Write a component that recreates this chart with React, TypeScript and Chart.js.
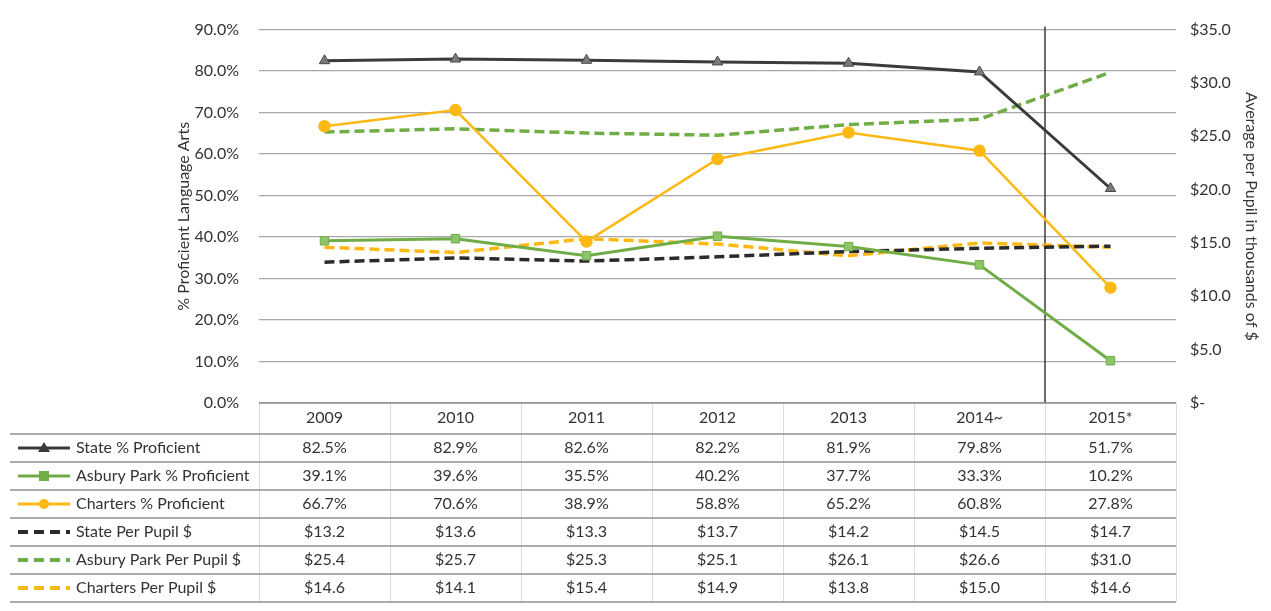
import React, { useEffect, useRef } from "react";
import { Chart, registerables } from "chart.js";

Chart.register(...registerables);

const years = ["2009", "2010", "2011", "2012", "2013", "2014~", "2015*"];
const statePct = [82.5, 82.9, 82.6, 82.2, 81.9, 79.8, 51.7];
const asburyPct = [39.1, 39.6, 35.5, 40.2, 37.7, 33.3, 10.2];
const chartersPct = [66.7, 70.6, 38.9, 58.8, 65.2, 60.8, 27.8];
const statePerPupil = [13.2, 13.6, 13.3, 13.7, 14.2, 14.5, 14.7];
const asburyPerPupil = [25.4, 25.7, 25.3, 25.1, 26.1, 26.6, 31.0];
const chartersPerPupil = [14.6, 14.1, 15.4, 14.9, 13.8, 15.0, 14.6];
const seriesNames = [
  "State % Proficient",
  "Asbury Park % Proficient",
  "Charters % Proficient",
  "State Per Pupil $",
  "Asbury Park Per Pupil $",
  "Charters Per Pupil $",
];
const leftMin = 0;
const leftMax = 90;
const leftStep = 10;
const rightMin = 0;
const rightMax = 35;
const rightStep = 5;
const leftTitle = "% Proficient Language Arts";
const rightTitle = "Average per Pupil in thousands of $";

const FONT = "Lato";
const TEXT = "#333333";
const DARK = "#3b3b3b";
const GREEN = "#70AD47";
const GOLD = "#FDB913";

const pctFmt = (v: number) => v.toFixed(1) + "%";
const usdFmt = (v: number) => "$" + v.toFixed(1);

type RowSpec = { values: number[]; fmt: (v: number) => string; color: string; dashed: boolean; marker: string | null };

const rows: RowSpec[] = [
  { values: statePct, fmt: pctFmt, color: DARK, dashed: false, marker: "triangle" },
  { values: asburyPct, fmt: pctFmt, color: GREEN, dashed: false, marker: "rect" },
  { values: chartersPct, fmt: pctFmt, color: GOLD, dashed: false, marker: "circle" },
  { values: statePerPupil, fmt: usdFmt, color: "#2b2b2b", dashed: true, marker: null },
  { values: asburyPerPupil, fmt: usdFmt, color: GREEN, dashed: true, marker: null },
  { values: chartersPerPupil, fmt: usdFmt, color: GOLD, dashed: true, marker: null },
];

const ROW_H = 28;

const tablePlugin = {
  id: "dataTable",
  beforeDatasetsDraw(chart: any) {
    const { ctx, chartArea } = chart;
    const n = years.length;
    const colW = (chartArea.right - chartArea.left) / n;
    const sepX = chartArea.left + colW * (n - 1);
    ctx.save();
    ctx.strokeStyle = "#3a3a3a";
    ctx.lineWidth = 1.5;
    ctx.beginPath();
    ctx.moveTo(sepX, chartArea.top - 3);
    ctx.lineTo(sepX, chartArea.bottom);
    ctx.stroke();
    ctx.restore();
  },
  afterDraw(chart: any) {
    const { ctx, chartArea } = chart;
    const xs = chart.scales.x;
    const n = years.length;
    const colW = (chartArea.right - chartArea.left) / n;
    const tableTop = xs.bottom;
    const legendLeft = 10;
    ctx.save();
    ctx.strokeStyle = "#dcdcdc";
    ctx.lineWidth = 1;
    for (let i = 0; i <= n; i++) {
      const x = Math.round(chartArea.left + colW * i) + 0.5;
      ctx.beginPath();
      ctx.moveTo(x, chartArea.bottom);
      ctx.lineTo(x, tableTop + ROW_H * rows.length);
      ctx.stroke();
    }
    ctx.strokeStyle = "#8f8f8f";
    ctx.lineWidth = 1.3;
    ctx.beginPath();
    ctx.moveTo(chartArea.left, chartArea.bottom);
    ctx.lineTo(chartArea.right, chartArea.bottom);
    ctx.stroke();
    for (let r = 0; r <= rows.length; r++) {
      const y = tableTop + ROW_H * r;
      ctx.beginPath();
      ctx.moveTo(legendLeft, y);
      ctx.lineTo(chartArea.right, y);
      ctx.stroke();
    }
    ctx.font = `16px ${FONT}`;
    ctx.fillStyle = TEXT;
    ctx.textBaseline = "middle";
    rows.forEach((row, r) => {
      const cy = tableTop + ROW_H * r + ROW_H / 2;
      ctx.textAlign = "center";
      row.values.forEach((v, i) => {
        ctx.fillText(row.fmt(v), xs.getPixelForValue(i), cy);
      });
      const x0 = 18;
      const x1 = 70;
      ctx.save();
      ctx.strokeStyle = row.color;
      ctx.lineWidth = row.dashed ? 4 : 3;
      if (row.dashed) ctx.setLineDash([10, 6]);
      ctx.beginPath();
      ctx.moveTo(x0, cy);
      ctx.lineTo(x1, cy);
      ctx.stroke();
      ctx.setLineDash([]);
      const mx = (x0 + x1) / 2;
      ctx.fillStyle = row.marker === "triangle" ? DARK : row.color;
      if (row.marker === "triangle") {
        ctx.beginPath();
        ctx.moveTo(mx, cy - 6);
        ctx.lineTo(mx + 6, cy + 4);
        ctx.lineTo(mx - 6, cy + 4);
        ctx.closePath();
        ctx.fill();
      } else if (row.marker === "rect") {
        ctx.fillRect(mx - 5, cy - 5, 10, 10);
      } else if (row.marker === "circle") {
        ctx.beginPath();
        ctx.arc(mx, cy, 5, 0, Math.PI * 2);
        ctx.fill();
      }
      ctx.restore();
      ctx.textAlign = "left";
      ctx.fillStyle = TEXT;
      ctx.fillText(seriesNames[r], 76, cy);
    });
    ctx.restore();
  },
};

export default function App() {
  const ref = useRef<HTMLCanvasElement | null>(null);
  useEffect(() => {
    if (!ref.current) return;
    const chart = new Chart(ref.current, {
      type: "line",
      data: {
        labels: years,
        datasets: [
          {
            label: seriesNames[0],
            data: statePct,
            yAxisID: "y",
            borderColor: DARK,
            borderWidth: 3,
            pointStyle: "triangle",
            pointRadius: 6,
            pointBackgroundColor: "#7a7a7a",
            pointBorderColor: "#4a4a4a",
            pointBorderWidth: 1,
          },
          {
            label: seriesNames[1],
            data: asburyPct,
            yAxisID: "y",
            borderColor: GREEN,
            borderWidth: 3,
            pointStyle: "rect",
            pointRadius: 6,
            pointBackgroundColor: "#8cc46a",
            pointBorderColor: GREEN,
            pointBorderWidth: 1,
          },
          {
            label: seriesNames[2],
            data: chartersPct,
            yAxisID: "y",
            borderColor: GOLD,
            borderWidth: 2.5,
            pointStyle: "circle",
            pointRadius: 5,
            pointBackgroundColor: GOLD,
            pointBorderColor: GOLD,
          },
          {
            label: seriesNames[3],
            data: statePerPupil,
            yAxisID: "y1",
            borderColor: "#2b2b2b",
            borderWidth: 3.5,
            borderDash: [10, 5],
            pointRadius: 0,
          },
          {
            label: seriesNames[4],
            data: asburyPerPupil,
            yAxisID: "y1",
            borderColor: GREEN,
            borderWidth: 3.5,
            borderDash: [10, 5],
            pointRadius: 0,
          },
          {
            label: seriesNames[5],
            data: chartersPerPupil,
            yAxisID: "y1",
            borderColor: GOLD,
            borderWidth: 3.5,
            borderDash: [10, 5],
            pointRadius: 0,
          },
        ],
      },
      options: {
        responsive: false,
        animation: false,
        layout: { padding: { left: 160, right: 0, top: 27, bottom: 177 } },
        plugins: { legend: { display: false }, tooltip: { enabled: false } },
        scales: {
          x: {
            offset: true,
            grid: { display: false, drawTicks: false, offset: true },
            border: { display: false },
            ticks: { color: TEXT, font: { family: FONT, size: 16 }, padding: 5, maxRotation: 0 },
            afterFit: (axis: any) => {
              axis.height = 31;
            },
          },
          y: {
            position: "left",
            min: leftMin,
            max: leftMax,
            grid: { color: "#a8a8a8", lineWidth: 1.2, drawTicks: false },
            border: { display: false },
            ticks: {
              stepSize: leftStep,
              color: TEXT,
              font: { family: FONT, size: 16 },
              padding: 20,
              callback: (v: any) => Number(v).toFixed(1) + "%",
            },
            title: {
              display: true,
              text: leftTitle,
              color: TEXT,
              font: { family: FONT, size: 16 },
              padding: { top: 14, bottom: 0 },
            },
            afterFit: (axis: any) => {
              axis.width = 99;
            },
          },
          y1: {
            position: "right",
            min: rightMin,
            max: rightMax,
            grid: { display: false, drawTicks: false },
            border: { display: false },
            ticks: {
              stepSize: rightStep,
              color: TEXT,
              font: { family: FONT, size: 16 },
              padding: 14,
              callback: (v: any) => (Number(v) === 0 ? "$-" : "$" + Number(v).toFixed(1)),
            },
            title: {
              display: true,
              text: rightTitle,
              color: TEXT,
              font: { family: FONT, size: 16 },
              padding: { top: 10, bottom: 0 },
            },
            afterFit: (axis: any) => {
              axis.width = 95;
            },
          },
        },
      },
      plugins: [tablePlugin],
    });
    return () => chart.destroy();
  }, []);
  return (
    <div style={{ position: "absolute", left: 0, top: 0, width: 1271, height: 611, background: "#fff" }}>
      <canvas ref={ref} width={1271} height={611} />
    </div>
  );
}
